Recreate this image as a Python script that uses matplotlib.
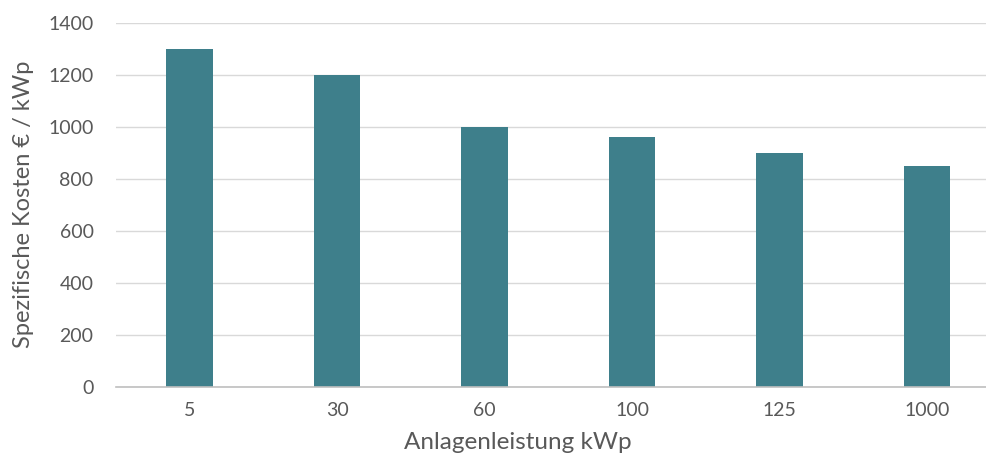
import matplotlib.pyplot as plt

leistung = ["5", "30", "60", "100", "125", "1000"]
kosten = [1300, 1200, 1000, 960, 900, 850]
y_ticks = [0, 200, 400, 600, 800, 1000, 1200, 1400]

plt.rcParams["font.family"] = ["Lato", "DejaVu Sans"]
text_color = "#595959"

fig = plt.figure(figsize=(9.87, 4.61), dpi=100)
# plot area runs a little past the right edge of the figure
ax = fig.add_axes([0.1173, 0.1605, 0.8967, 0.7895])

x = range(len(leistung))
ax.bar(x, kosten, width=0.315, color="#3E7F8B", zorder=3)

ax.set_xlim(-0.5, len(leistung) - 0.5)
ax.set_ylim(0, 1400)
ax.set_yticks(y_ticks)
ax.set_xticks(list(x))
ax.set_xticklabels(leistung)

ax.grid(axis="y", color="#D9D9D9", linewidth=1, zorder=0)
for side in ["top", "right", "left"]:
    ax.spines[side].set_visible(False)
ax.spines["bottom"].set_color("#BFBFBF")
ax.spines["bottom"].set_linewidth(1.2)
ax.spines["bottom"].set_zorder(4)

ax.tick_params(axis="both", length=0, labelsize=14, colors=text_color)
ax.tick_params(axis="x", pad=11)
ax.tick_params(axis="y", pad=16)

ax.set_xlabel("Anlagenleistung kWp", fontsize=17.5, color=text_color, va="baseline")
ax.xaxis.set_label_coords(0.454, -0.170)
ax.set_ylabel("Spezifische Kosten € / kWp", fontsize=17, color=text_color, va="center")
ax.yaxis.set_label_coords(-0.104, 0.503)

fig.savefig("out.png", dpi=100)
